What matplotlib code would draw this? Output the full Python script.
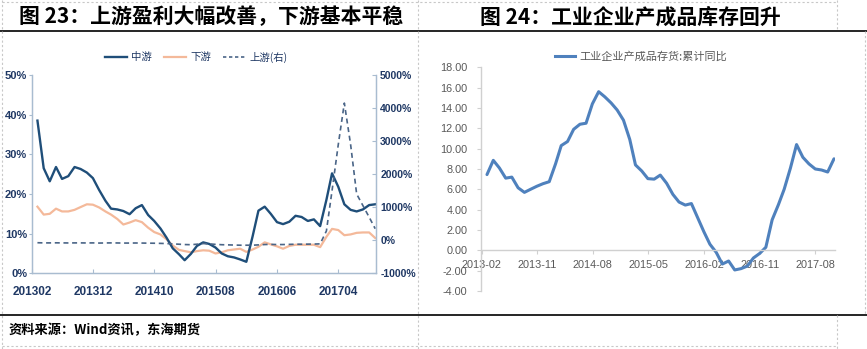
import matplotlib.pyplot as plt
import pandas as pd
from matplotlib.lines import Line2D
from matplotlib.ticker import FuncFormatter

plt.rcParams['font.family'] = ['Noto Sans CJK SC', 'DejaVu Sans']

# 图23：利润总额累计同比，中游/下游为左轴，上游为右轴（%）
profit_start = '2013-02'
midstream = [38.5, 26.5, 23.2, 26.8, 23.8, 24.5, 26.8, 26.3, 25.4, 24.0,
             21.0, 18.3, 16.3, 16.1, 15.7, 14.9, 16.4, 17.2, 14.7, 13.2,
             11.3, 9.0, 6.3, 4.8, 3.3, 4.9, 6.9, 7.8, 7.4, 6.5,
             5.0, 4.3, 4.0, 3.5, 2.9, 9.3, 15.8, 16.8, 15.0, 12.9,
             12.4, 13.0, 14.5, 14.2, 13.2, 13.6, 11.9, 18.5, 25.2, 21.8,
             17.4, 16.0, 15.6, 16.1, 17.2, 17.4]
downstream = [16.8, 14.8, 15.0, 16.3, 15.6, 15.6, 16.0, 16.7, 17.4, 17.3,
              16.6, 15.6, 14.8, 13.7, 12.3, 12.8, 13.4, 12.9, 11.5, 10.4,
              9.8, 8.6, 7.0, 5.9, 5.6, 5.3, 5.6, 5.8, 5.7, 5.0,
              5.3, 5.8, 6.0, 6.2, 5.4, 6.0, 6.7, 7.8, 7.3, 6.8,
              6.2, 6.9, 7.2, 7.2, 7.2, 7.2, 6.6, 9.2, 11.2, 10.9,
              9.6, 9.8, 10.2, 10.3, 10.3, 8.9]
upstream = [-75, -80, -80, -78, -80, -82, -80, -80, -82, -80,
            -85, -82, -80, -82, -85, -85, -83, -85, -88, -90,
            -95, -100, -110, -120, -130, -135, -120, -100, -110, -125,
            -135, -140, -145, -150, -150, -150, -140, -130, -125, -130,
            -130, -125, -120, -120, -118, -115, -110, 280, 1500, 2900,
            4150, 2900, 1400, 1050, 700, 350]
profit_ticks = ['201302', '201312', '201410', '201508', '201606', '201704']

# 图24：工业企业产成品存货累计同比（%）
inventory_start = '2013-02'
inventory = [7.45, 8.85, 8.1, 7.1, 7.2, 6.15, 5.7, 6.0, 6.3, 6.55,
             6.75, 8.5, 10.3, 10.7, 11.9, 12.4, 12.5, 14.4, 15.6, 15.1,
             14.5, 13.8, 12.8, 10.9, 8.4, 7.8, 7.05, 7.0, 7.4, 6.6,
             5.5, 4.75, 4.45, 4.6, 3.2, 1.8, 0.6, -0.2, -1.35, -1.05,
             -1.93, -1.8, -1.55, -0.75, -0.3, 0.3, 3.0, 4.5, 6.0, 8.1,
             10.4, 9.15, 8.5, 8.0, 7.9, 7.7, 9.0]
inventory_ticks = ['2013-02', '2013-11', '2014-08', '2015-05',
                   '2016-02', '2016-11', '2017-08']

W, H = 867, 349
fig = plt.figure(figsize=(W / 100, H / 100), dpi=100)
fig.patch.set_facecolor('white')


def box(x0, y0, x1, y1):
    """pixel box (top-left origin) -> figure rect"""
    return [x0 / W, 1 - y1 / H, (x1 - x0) / W, (y1 - y0) / H]


def fline(xs, ys, **kw):
    fig.add_artist(Line2D([x / W for x in xs], [1 - y / H for y in ys],
                          transform=fig.transFigure, **kw))


# frame: rules and dashed cell borders
fline([0, W], [31, 31], color='black', lw=1.2)
fline([0, W], [314.5, 314.5], color='black', lw=1.2)
dash = dict(color='#C8C8C8', lw=0.8, ls=(0, (2, 2)))
fline([418, 418], [0, H], **dash)
fline([2, 2], [0, H], **dash)
fline([2, 837], [2, 2], **dash)
fline([2, 837], [346, 346], **dash)
fline([837, 837], [0, 31], **dash)
fline([837, 837], [314.5, H], **dash)
fline([865, 865], [31, 314.5], **dash)

# titles and source
title_kw = dict(ha='center', va='center', fontsize=15, weight='bold', color='black')
fig.text(211 / W, 1 - 17 / H, '图 23：上游盈利大幅改善，下游基本平稳', **title_kw)
fig.text(630 / W, 1 - 17 / H, '图 24：工业企业产成品库存回升', **title_kw)
fig.text(9 / W, 1 - 330 / H, '资料来源：Wind资讯，东海期货', ha='left', va='center',
         fontsize=9.5, weight='bold', color='black')

# ---- left chart ----
navy_txt = '#1F3864'
spine_c = '#A9BCD0'

pdates = pd.date_range(profit_start, periods=len(midstream), freq='ME')
ax1 = fig.add_axes(box(32, 75, 376, 273.3))
ax1.plot(pdates, downstream, color='#F4B99A', lw=1.6, label='下游')
ax1.plot(pdates, midstream, color='#1F4E79', lw=1.7, label='中游')
ax1.set_ylim(0, 50)
ax1.set_yticks(range(0, 51, 10))
ax1.yaxis.set_major_formatter(FuncFormatter(lambda v, _: f'{v:.0f}%'))
ax1.set_xlim(pd.Timestamp('2013-02-01'), pd.Timestamp('2017-10-04'))
ax1.set_xticks(pd.to_datetime(profit_ticks, format='%Y%m'))
ax1.set_xticklabels(profit_ticks)

ax1r = ax1.twinx()
ax1r.plot(pdates, upstream, color='#4A6587', lw=1.2, ls=(0, (3, 2.2)), label='上游(右)')
ax1r.set_ylim(-1000, 5000)
ax1r.set_yticks(range(-1000, 5001, 1000))
ax1r.yaxis.set_major_formatter(FuncFormatter(lambda v, _: f'{v:.0f}%'))

for a in (ax1, ax1r):
    a.spines['top'].set_visible(False)
    for s in ('left', 'right', 'bottom'):
        a.spines[s].set_color(spine_c)
        a.spines[s].set_linewidth(0.9)
ax1.tick_params(axis='y', direction='out', length=2, pad=1.5, color=spine_c)
ax1.tick_params(axis='x', direction='in', length=3, pad=9, color=spine_c)
ax1r.tick_params(axis='y', direction='in', length=3, pad=3, color=spine_c)

label_sizes = [(ax1.get_xticklabels(), 8.5), (ax1.get_yticklabels(), 8),
               (ax1r.get_yticklabels(), 7.5)]
for labels, size in label_sizes:
    for lab in labels:
        lab.set_family(['Liberation Sans', 'DejaVu Sans'])
        lab.set_weight('bold')
        lab.set_size(size)
        lab.set_color(navy_txt)

h_mid = Line2D([], [], color='#1F4E79', lw=1.7)
h_down = Line2D([], [], color='#F4B99A', lw=1.6)
h_up = Line2D([], [], color='#4A6587', lw=1.2, ls=(0, (2, 1.6)))
fig.legend([h_mid, h_down, h_up], ['中游', '下游', '上游(右)'],
           loc='center', bbox_to_anchor=(196 / W, 1 - 57 / H), ncol=3,
           frameon=False, fontsize=7.5, handlelength=2.1, handletextpad=0.4,
           columnspacing=1.2, labelcolor=navy_txt)

# ---- right chart ----
gray_txt = '#595959'
axis_c = '#D0D0D0'
idates = pd.date_range(inventory_start, periods=len(inventory), freq='ME')
ax2 = fig.add_axes(box(481.5, 67.3, 835, 291))
ax2.plot(idates, inventory, color='#4F81BD', lw=2.2, solid_joinstyle='round',
         solid_capstyle='round', label='工业企业产成品存货:累计同比')
ax2.set_ylim(-4, 18)
ax2.set_yticks(range(-4, 19, 2))
ax2.yaxis.set_major_formatter(FuncFormatter(lambda v, _: f'{v:.2f}'))
ax2.set_xlim(pd.Timestamp('2013-02-01'), pd.Timestamp('2017-11-05'))
ax2.set_xticks(pd.to_datetime(inventory_ticks, format='%Y-%m'))
ax2.set_xticklabels(inventory_ticks)
ax2.spines['top'].set_visible(False)
ax2.spines['right'].set_visible(False)
ax2.spines['bottom'].set_position(('data', 0))
for s in ('left', 'bottom'):
    ax2.spines[s].set_color(axis_c)
    ax2.spines[s].set_linewidth(1.0)
ax2.tick_params(axis='y', direction='out', length=3, pad=7, color=axis_c,
                labelsize=7.8, labelcolor=gray_txt)
ax2.tick_params(axis='x', direction='out', length=3, pad=4, color=axis_c,
                labelsize=7.8, labelcolor=gray_txt)
for lab in ax2.get_xticklabels() + ax2.get_yticklabels():
    lab.set_family(['Liberation Sans', 'DejaVu Sans'])

fig.legend([Line2D([], [], color='#4F81BD', lw=2.2)], ['工业企业产成品存货:累计同比'],
           loc='center', bbox_to_anchor=(641 / W, 1 - 57 / H), frameon=False,
           fontsize=8, handlelength=1.8, handletextpad=0.4, labelcolor=gray_txt)

fig.savefig('out.png', dpi=100, facecolor='white')
